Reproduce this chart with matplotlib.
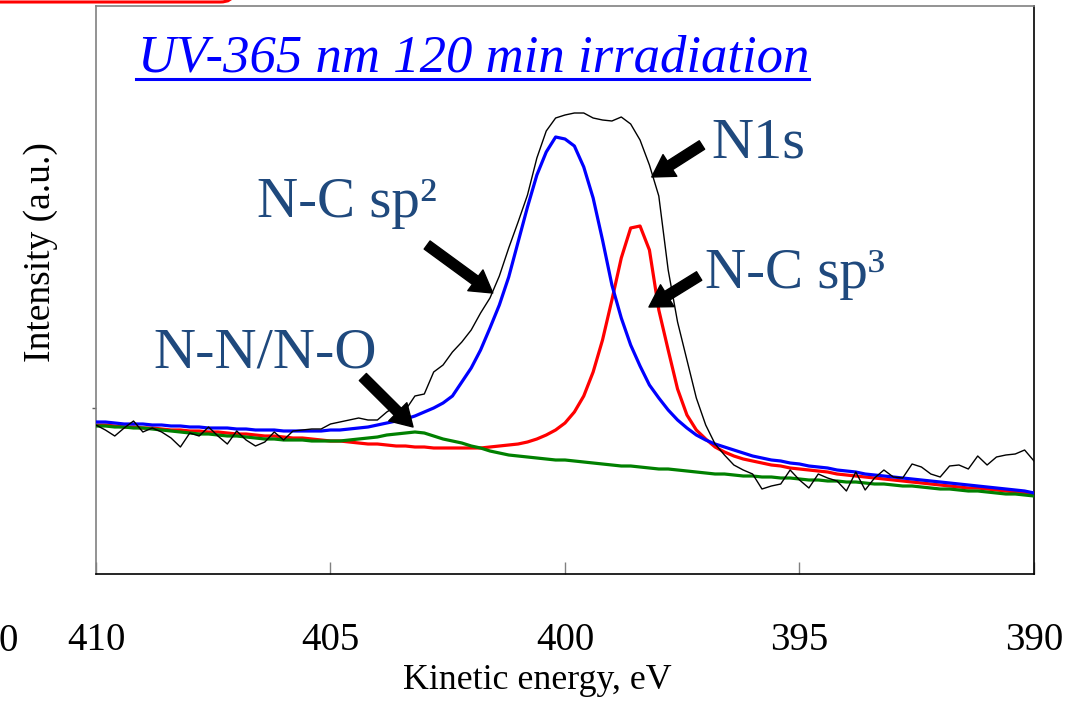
import numpy as np
import matplotlib
matplotlib.use("Agg")
import matplotlib.pyplot as plt
from matplotlib.patches import FancyBboxPatch
from matplotlib.lines import Line2D

# ---------------- data (binding energy grid 410 -> 390 eV, step 0.2 eV) ----------------
energy = np.round(np.linspace(410, 390, 101), 1)

n1s_raw = [149, 144, 138, 146, 153, 142, 146, 142, 136, 127,
           141, 138, 147, 138, 130, 143, 134, 128, 132, 142,
           134, 143, 144, 145, 145, 150, 152, 154, 156, 154,
           154, 162, 168, 164, 178, 180, 202, 209, 222, 232,
           244, 261, 276, 298, 326, 352, 379, 416, 443, 456,
           459, 461, 461, 456, 454, 453, 457, 450, 434, 409,
           378, 304, 252, 214, 176, 149, 130, 119, 109, 104,
           100, 85, 88, 90, 104, 94, 86, 100, 96, 93,
           83, 102, 84, 96, 104, 97, 96, 110, 107, 100,
           97, 108, 109, 105, 118, 109, 117, 119, 120, 124,
           113]

nc_sp2 = [152, 152, 151, 150, 150, 150, 149, 149, 148, 148,
          147, 147, 146, 146, 146, 145, 145, 144, 144, 144,
          143, 143, 143, 143, 143, 144, 144, 145, 146, 147,
          149, 151, 153, 155, 158, 162, 166, 171, 178, 192,
          206, 224, 246, 269, 297, 332, 367, 399, 422, 437,
          435, 428, 407, 376, 334, 289, 256, 229, 208, 189,
          176, 164, 154, 146, 139, 134, 130, 127, 124, 121,
          118, 116, 114, 113, 111, 110, 108, 107, 106, 104,
          103, 102, 100, 99, 98, 97, 96, 95, 94, 93,
          92, 91, 90, 89, 88, 87, 86, 85, 84, 83,
          81]

nc_sp3 = [149, 149, 148, 147, 147, 146, 146, 145, 144, 144,
          143, 143, 142, 142, 141, 140, 140, 139, 138, 138,
          137, 136, 136, 135, 134, 133, 133, 132, 131, 130,
          130, 129, 128, 128, 127, 127, 126, 126, 126, 126,
          126, 126, 127, 128, 129, 130, 132, 135, 139, 144,
          151, 162, 178, 202, 234, 274, 316, 346, 348, 324,
          264, 224, 185, 159, 144, 135, 127, 122, 118, 115,
          113, 111, 109, 108, 106, 105, 104, 103, 102, 100,
          99, 98, 97, 96, 95, 94, 93, 92, 91, 90,
          89, 88, 87, 86, 86, 85, 84, 83, 82, 81,
          80]

nn_no = [148, 148, 147, 147, 146, 146, 145, 144, 143, 142,
         141, 140, 140, 139, 138, 138, 137, 136, 135, 135,
         134, 134, 134, 133, 133, 133, 133, 134, 135, 136,
         137, 139, 140, 141, 142, 141, 138, 135, 133, 131,
         128, 126, 123, 121, 119, 118, 117, 116, 115, 114,
         114, 113, 112, 111, 110, 109, 108, 108, 107, 106,
         105, 105, 104, 103, 102, 101, 100, 100, 99, 98,
         98, 97, 97, 96, 96, 95, 94, 94, 93, 93,
         92, 92, 91, 90, 90, 89, 88, 88, 87, 86,
         85, 85, 84, 83, 83, 82, 81, 80, 80, 79,
         78]

x_ticks = [410, 405, 400, 395, 390]
x_ticklabels = ["410", "405", "400", "395", "390"]

title_text = "UV-365 nm 120 min irradiation"
label_n1s = "N1s"
label_sp2 = "N-C sp\u00b2"
label_sp3 = "N-C sp\u00b3"
label_nn = "N-N/N-O"

# ---------------- figure ----------------
W, H = 1082, 707
fig = plt.figure(figsize=(W / 100, H / 100), dpi=100)
serif = ["Liberation Serif", "DejaVu Serif"]
ax = fig.add_axes([96 / W, 1 - 574 / H, 938 / W, 568 / H])

ax.plot(energy, nn_no, color="#008000", lw=2.3, zorder=3)
ax.plot(energy, nc_sp3, color="#FF0000", lw=2.3, zorder=2)
ax.plot(energy, nc_sp2, color="#0000FF", lw=2.3, zorder=4)
ax.plot(energy, n1s_raw, color="black", lw=1.0, zorder=5)

ax.set_xlim(410, 390)
ax.set_ylim(0, 568)

for side in ("left", "top"):
    ax.spines[side].set_color("#808080")
    ax.spines[side].set_linewidth(1.2)
for side in ("right", "bottom"):
    ax.spines[side].set_color("black")
    ax.spines[side].set_linewidth(1.2)

ax.set_xticks(x_ticks)
ax.set_xticklabels(x_ticklabels, fontfamily=serif, fontsize=28)
ax.tick_params(axis="x", direction="in", length=8.6, width=1.0, color="#808080", pad=34.5)
ax.set_yticks([166])
ax.set_yticklabels([""])
ax.tick_params(axis="y", direction="out", length=3, width=1.0, color="#606060")

# annotations
lab_color = "#1F497D"
ax.text(396.87, 416, label_n1s, fontsize=42, color=lab_color, fontfamily=serif, va="baseline", ha="left")
ax.text(406.57, 357, label_sp2, fontsize=41, color=lab_color, fontfamily=serif, va="baseline", ha="left")
ax.text(397.01, 286, label_sp3, fontsize=41, color=lab_color, fontfamily=serif, va="baseline", ha="left")
ax.text(408.78, 207, label_nn, fontsize=42, color=lab_color, fontfamily=serif, va="baseline", ha="left")

arrow_style = "simple,head_length=1.55,head_width=1.85,tail_width=0.72"
arrows = [((397.08, 429), (398.15, 397)),
          ((402.94, 329), (401.54, 281)),
          ((397.14, 298), (398.21, 267)),
          ((404.31, 197), (403.24, 147))]
for tail, tip in arrows:
    ax.annotate("", xy=tip, xytext=tail,
                arrowprops=dict(arrowstyle=arrow_style, color="black", shrinkA=0, shrinkB=0,
                                mutation_scale=10), zorder=6)

# title with underline
t = fig.text(138 / W, 1 - 72 / H, title_text, fontsize=38, fontstyle="italic", color="#0000FF",
             fontfamily=serif, va="baseline", ha="left")
fig.canvas.draw()
bb = t.get_window_extent(renderer=fig.canvas.get_renderer())
fig.add_artist(Line2D([bb.x0 / W - 2 / W, bb.x1 / W], [1 - 79 / H, 1 - 79 / H],
                      color="#0000FF", lw=2.2, transform=fig.transFigure))

# axis labels
fig.text(41 / W, 1 - 252 / H, "Intensity (a.u.)", rotation=90, fontsize=27, fontfamily=serif,
         ha="center", va="center")
fig.text(537 / W, 1 - 689 / H, "Kinetic energy, eV", fontsize=25.8, fontfamily=serif,
         ha="center", va="baseline")

# cropped label fragment at far left
fig.text(18 / W, 1 - 651 / H, "0", fontsize=28, fontfamily=serif, ha="right", va="baseline")

# red rounded box edge at top-left (mostly off-canvas)
fig.add_artist(FancyBboxPatch((-60 / W, 1 - 2 / H), (233 + 60) / W, 80 / H,
                              boxstyle="round,pad=0,rounding_size=0.012", ec="#FF0000", fc="none",
                              lw=2.2, transform=fig.transFigure, clip_on=False))

fig.savefig("out.png", dpi=100)
